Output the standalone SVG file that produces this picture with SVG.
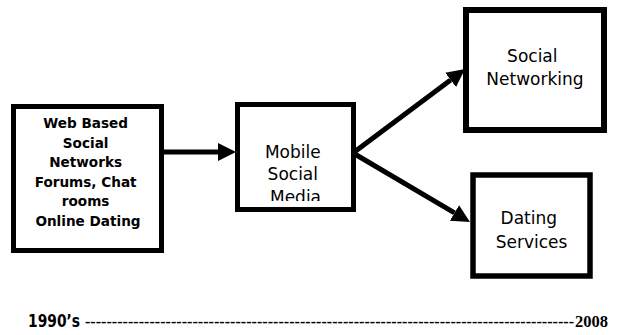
<svg xmlns="http://www.w3.org/2000/svg" width="619" height="335" viewBox="0 0 619 335">
<style>
.box{fill:#fff;stroke:#000;stroke-width:5}
.bold{font-family:"DejaVu Sans",Verdana,sans-serif;font-weight:bold;font-size:13.6px;fill:#000}
.reg{font-family:"DejaVu Sans",Verdana,sans-serif;font-size:17px;fill:#000}
.conn{stroke:#000;stroke-width:5;fill:none}
</style>
<defs>
<marker id="ah" markerUnits="userSpaceOnUse" markerWidth="18" markerHeight="18" refX="0" refY="9" orient="auto" viewBox="0 0 18 18">
<path d="M0,0 L18,9 L0,18 z" fill="#000"/>
</marker>
<clipPath id="mclip"><rect x="240" y="107" width="111" height="94"/></clipPath>
</defs>
<rect width="619" height="335" fill="#fff"/>
<g id="web-based">
<rect class="box" x="13.5" y="106.5" width="148" height="144"/>
<text class="bold" text-anchor="middle">
<tspan x="88" y="128">Web Based</tspan>
<tspan x="88" y="147.5">Social</tspan>
<tspan x="88" y="167">Networks</tspan>
<tspan x="88" y="186.5">Forums, Chat</tspan>
<tspan x="88" y="206">rooms</tspan>
<tspan x="88" y="225.5">Online Dating</tspan>
</text>
</g>
<g id="mobile">
<rect class="box" x="237.5" y="104.5" width="116" height="105"/>
<text class="reg" text-anchor="middle" clip-path="url(#mclip)">
<tspan x="295.5" y="158">Mobile</tspan>
<tspan x="295.5" y="180">Social</tspan>
<tspan x="295.5" y="203">Media</tspan>
</text>
</g>
<g id="social-networking">
<rect class="box" x="466" y="10" width="138" height="120" style="stroke-width:6"/>
<text class="reg" text-anchor="middle">
<tspan x="535" y="62">Social</tspan>
<tspan x="535" y="85">Networking</tspan>
</text>
</g>
<g id="dating">
<rect class="box" x="473" y="175" width="117" height="101" style="stroke-width:5.5"/>
<text class="reg" text-anchor="middle">
<tspan x="531.5" y="224">Dating</tspan>
<tspan x="531.5" y="248">Services</tspan>
</text>
</g>
<g id="connectors">
<line class="conn" x1="164" y1="152" x2="218" y2="152" marker-end="url(#ah)"/>
<line class="conn" x1="353" y1="153" x2="450.6" y2="79.9" marker-end="url(#ah)"/>
<line class="conn" x1="353" y1="153" x2="454.5" y2="212.9" marker-end="url(#ah)"/>
</g>
<g id="timeline">
<text y="327" fill="#000"><tspan x="28" font-family="'DejaVu Sans Condensed','DejaVu Sans',sans-serif" font-weight="bold" font-size="17" textLength="52" lengthAdjust="spacingAndGlyphs">1990’s</tspan><tspan x="85" font-family="'Liberation Serif','Times New Roman',serif" font-weight="bold" font-size="16" textLength="489" lengthAdjust="spacing">-------------------------------------------------------------------------------------------</tspan><tspan x="575" font-family="'Liberation Serif','Times New Roman',serif" font-weight="bold" font-size="16.5">2008</tspan></text>
</g>
</svg>
